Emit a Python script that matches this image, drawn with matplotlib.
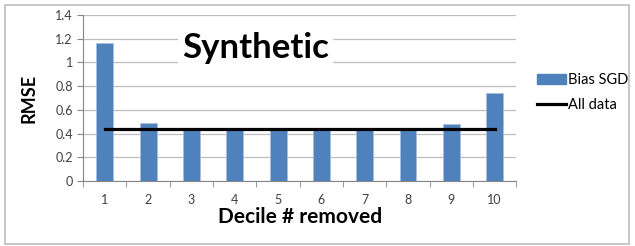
import matplotlib.pyplot as plt
import numpy as np
from matplotlib.patches import Rectangle
from matplotlib.lines import Line2D

plt.rcParams["font.family"] = ["Lato", "DejaVu Sans"]

deciles = [1, 2, 3, 4, 5, 6, 7, 8, 9, 10]
bias_sgd = [1.165, 0.486, 0.44, 0.44, 0.44, 0.44, 0.44, 0.45, 0.483, 0.745]
all_data = [0.442] * 10

fig = plt.figure(figsize=(6.35, 2.46), dpi=100)
fig.patches.append(Rectangle((0.008, 0.01), 0.982, 0.97, transform=fig.transFigure,
                             fill=False, edgecolor="#bfbfbf", linewidth=1.2))
ax = fig.add_axes([0.131, 0.264, 0.682, 0.675])

x = np.array(deciles)
ax.bar(x, bias_sgd, width=0.39, color="#4f81bd", edgecolor="#a7c0e0", linewidth=0.5,
       zorder=2, label="Bias SGD")
ax.plot(x, all_data, color="black", linewidth=2.3, zorder=3, label="All data")

ax.set_xlim(0.5, 10.5)
ax.set_ylim(0, 1.4)
ax.set_yticks(np.arange(0, 1.41, 0.2))
ax.set_yticklabels(["0", "0.2", "0.4", "0.6", "0.8", "1", "1.2", "1.4"])
ax.set_xticks(x)
ax.set_xticks(np.arange(0.5, 10.6, 1), minor=True)
ax.tick_params(axis="x", which="major", length=0, pad=9, labelsize=9, colors="#404040")
ax.tick_params(axis="x", which="minor", length=4, color="#868686")
ax.tick_params(axis="y", length=4, color="#868686", labelsize=9, labelcolor="#404040")
ax.grid(axis="y", color="#bfbfbf", linewidth=0.9, zorder=0)
ax.set_axisbelow(True)
for s in ["top", "right"]:
    ax.spines[s].set_visible(False)
ax.spines["left"].set_color("#868686")
ax.spines["bottom"].set_color("#868686")

ax.set_xlabel("Decile # removed", fontsize=15, fontweight="bold", labelpad=1)
ax.set_ylabel("RMSE", fontsize=13, fontweight="bold", labelpad=13)

ax.text(4.48, 1.12, "Synthetic", fontsize=25, fontweight="bold", ha="center", va="center",
        bbox=dict(facecolor="white", edgecolor="none", pad=3), zorder=4)

handles = [Rectangle((0, 0), 1, 1, color="#4f81bd"),
           Line2D([0], [0], color="black", linewidth=2.3)]
fig.legend(handles, ["Bias SGD", "All data"], loc="upper left",
           bbox_to_anchor=(0.825, 0.755), frameon=False, fontsize=10.5,
           handlelength=2.0, handletextpad=0.1, labelspacing=0.75)

fig.savefig("out.png", dpi=100)
